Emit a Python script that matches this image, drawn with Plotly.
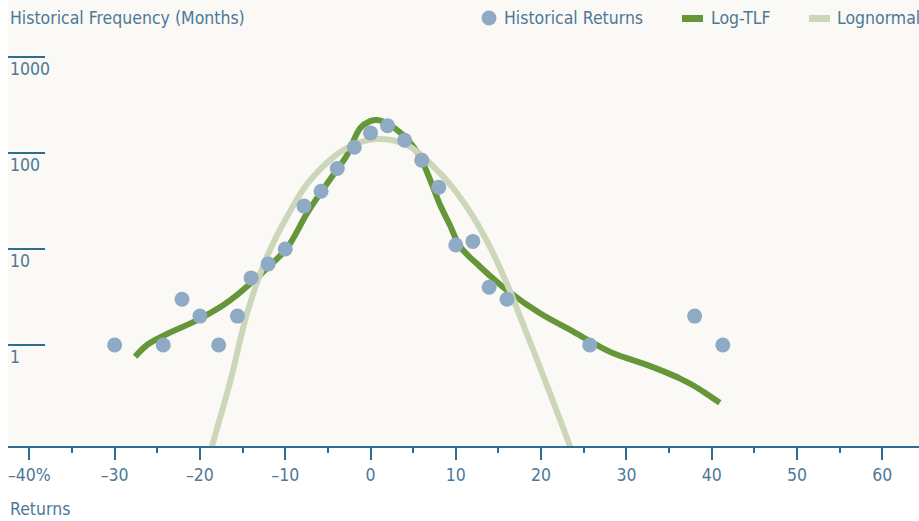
import math
import plotly.graph_objects as go

# Historical returns (monthly return %, frequency in months)
hist_x = [-30, -24.3, -22.1, -20, -17.8, -15.6, -14, -12, -10, -7.8, -5.8, -3.9, -1.9,
          0, 2, 4, 6, 8, 10, 12, 13.9, 16, 25.7, 38, 41.3]
hist_y = [1, 1, 3, 2, 1, 2, 5, 7, 10, 28, 40, 69, 115,
          162, 192, 136, 84, 44, 11, 12, 4, 3, 1, 2, 1]

# Log-TLF fitted curve
tlf_x = [-27.6, -26.2, -24.2, -21.1, -19.9, -17.2, -15.6, -14.1, -11.9, -9.8, -7.45, -5.9,
         -3.9, -2.76, -1.2, -0.04, 0.78, 2.07, 3.83, 4.88, 5.82, 6.76, 8.16, 9.3, 10.5,
         12.85, 15.97, 19.87, 23.77, 26.5, 28.45, 32.4, 34.5, 36.3, 38.0, 39.5, 40.95]
tlf_y = [0.755, 1.0, 1.26, 1.68, 1.9, 2.63, 3.35, 4.36, 6.6, 10.2, 23.5, 38.0,
         67.6, 95, 182, 215, 221, 200, 154, 121, 91, 59, 28.7, 17.8, 10.6,
         6.54, 3.74, 2.14, 1.38, 1.0, 0.82, 0.62, 0.525, 0.447, 0.372, 0.305, 0.25]

# Lognormal fitted curve
ln_x = [-19.0, -18.57, -16.4, -14.47, -12.13, -9.79, -7.06, -2.76, 0.75, 4.26, 8.16,
        10.1, 12.06, 14.0, 15.97, 18.31, 21.04, 23.38, 24.0]
ln_y = [0.0634, 0.0887, 0.432, 2.15, 8.32, 21.7, 52.3, 113, 140, 121, 61.5,
        38.6, 21.5, 10.5, 4.39, 1.32, 0.314, 0.0887, 0.0634]

x_tickvals = [-40, -30, -20, -10, 0, 10, 20, 30, 40, 50, 60]
x_ticktext = ["\u201340%", "\u201330", "\u201320", "\u201310", "0", "10", "20", "30", "40", "50", "60"]
y_tickvals = [1, 10, 100, 1000]
y_ticktext = ["1", "10", "100", "1000"]

series_names = ["Historical Returns", "Log-TLF", "Lognormal"]
series_colors = ["#8eaac4", "#65973a", "#cbd7b8"]

FONT = "DejaVu Sans Condensed, Liberation Sans Narrow, sans-serif"
FS = 17.5
TXT = "#4c7899"
AX = "#2f6b93"

W, H = 919, 521
ML, MR, MT, MB = 8, 0, 0, 75
PW, PH = W - ML - MR, H - MT - MB


def px(xp):
    return (xp - ML) / PW


def py(yp):
    return 1 - (yp - MT) / PH


fig = go.Figure()
fig.add_trace(go.Scatter(
    x=tlf_x, y=tlf_y, mode="lines", name=series_names[1],
    line=dict(color=series_colors[1], width=6, shape="spline", smoothing=1)))
fig.add_trace(go.Scatter(
    x=ln_x, y=ln_y, mode="lines", name=series_names[2],
    line=dict(color=series_colors[2], width=6, shape="spline", smoothing=1)))
fig.add_trace(go.Scatter(
    x=hist_x, y=hist_y, mode="markers", name=series_names[0],
    marker=dict(color=series_colors[0], size=15, line=dict(width=0))))

# legend drawn in the header row
legend_shapes = [
    dict(type="circle", xref="paper", yref="paper", x0=px(481.5), x1=px(496.5),
         y0=py(25.5), y1=py(10.5), fillcolor=series_colors[0], line=dict(width=0)),
    dict(type="rect", xref="paper", yref="paper", x0=px(682), x1=px(703),
         y0=py(22), y1=py(15), fillcolor=series_colors[1], line=dict(width=0)),
    dict(type="rect", xref="paper", yref="paper", x0=px(809), x1=px(830),
         y0=py(22), y1=py(15), fillcolor=series_colors[2], line=dict(width=0)),
]
legend_text_x = [502, 709, 835]
legend_annots = [
    dict(text=n, xref="paper", yref="paper", x=px(lx), y=py(18), xanchor="left",
         yanchor="middle", showarrow=False, font=dict(size=FS, color=TXT))
    for n, lx in zip(series_names, legend_text_x)
]

# y tick labels sit just below the short tick rules
y_label_annots = [
    dict(text=t, xref="paper", yref="y", x=0, y=math.log10(v), xanchor="left",
         yanchor="middle", yshift=-12, showarrow=False, font=dict(size=FS, color=TXT))
    for v, t in zip(y_tickvals, y_ticktext)
]

fig.update_layout(
    width=W, height=H,
    margin=dict(l=ML, r=MR, t=MT, b=MB),
    paper_bgcolor="white",
    plot_bgcolor="#faf9f5",
    font=dict(family=FONT, size=FS, color=TXT),
    showlegend=False,
    xaxis=dict(range=[-42.5, 64.3], tickvals=x_tickvals, ticktext=x_ticktext,
               automargin=False, ticklabeloverflow="allow",
               showgrid=False, zeroline=False, showline=True, linecolor=AX, linewidth=1.5,
               ticks="outside", ticklen=12, tickwidth=1.5, tickcolor=AX,
               minor=dict(dtick=5, tick0=0, ticks="outside", ticklen=5, tickwidth=1.5,
                          tickcolor=AX, showgrid=False),
               tickfont=dict(size=FS, color=TXT)),
    yaxis=dict(type="log", range=[-1.052, 3.594], tickvals=y_tickvals,
               automargin=False, showticklabels=False,
               showgrid=False, zeroline=False, showline=False,
               ticks="inside", ticklen=37, tickwidth=1.5, tickcolor=AX),
    shapes=legend_shapes,
    annotations=[
        dict(text="Historical Frequency (Months)", xref="paper", yref="paper",
             x=0, y=py(18), xanchor="left", yanchor="middle", showarrow=False,
             font=dict(size=FS, color=TXT)),
        dict(text="Returns", xref="paper", yref="paper", x=0, y=py(509),
             xanchor="left", yanchor="middle", showarrow=False,
             font=dict(size=FS, color=TXT)),
    ] + legend_annots + y_label_annots,
)

fig.write_html("out.html", config={"displayModeBar": False},
               post_script="document.body.style.margin='0px';")
